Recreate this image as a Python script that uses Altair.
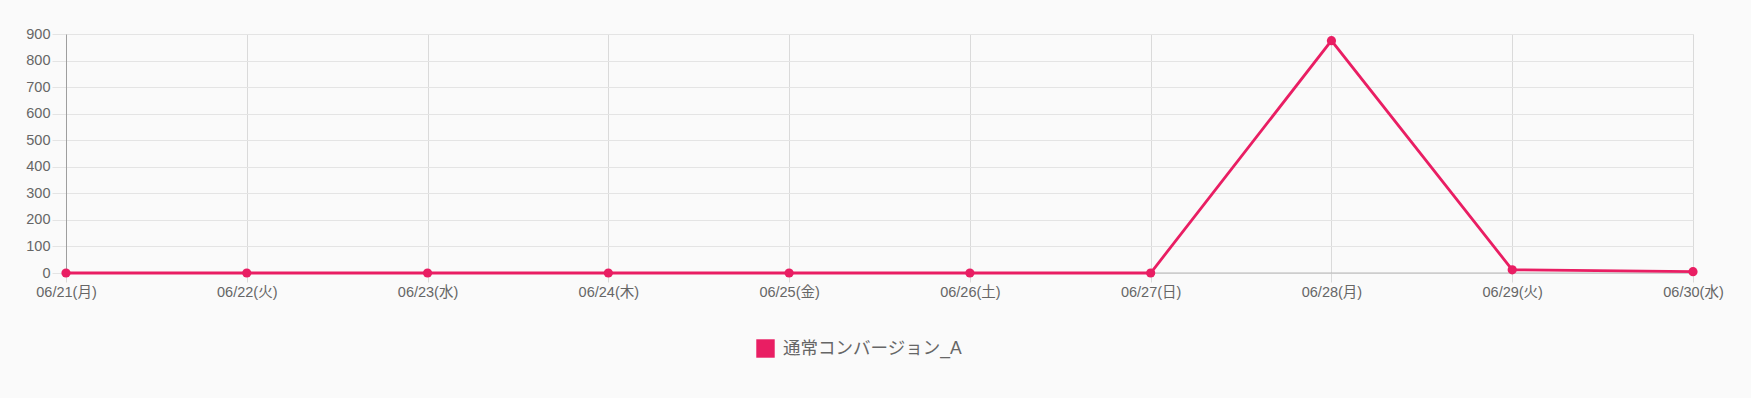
import altair as alt
import pandas as pd

dates = ["06/21(月)", "06/22(火)", "06/23(水)", "06/24(木)", "06/25(金)",
         "06/26(土)", "06/27(日)", "06/28(月)", "06/29(火)", "06/30(水)"]
values = [0, 0, 0, 0, 0, 0, 0, 875, 12, 5]
series = ["通常コンバージョン_A"] * len(dates)
y_ticks = [0, 100, 200, 300, 400, 500, 600, 700, 800, 900]

df = pd.DataFrame({"date": dates, "value": values, "series": series})

FONT = "Liberation Sans, Noto Sans CJK JP"
PINK = "#e91e63"

y_axis = alt.Axis(title=None, values=y_ticks, tickCount=10, grid=True,
                  gridColor="#e4e4e4", domain=True, domainColor="#9e9e9e",
                  tickColor="#e4e4e4", tickSize=14, labelFontSize=14.5,
                  labelColor="#666", labelFont=FONT, labelPadding=2,
                  labelOverlap=False, labelFlush=False, labelBound=False)
y_scale = alt.Scale(domain=[0, 900], nice=False)

base = alt.Chart(df).encode(
    x=alt.X("date:O", sort=dates,
            scale=alt.Scale(type="point", padding=0),
            axis=alt.Axis(title=None, labelAngle=0, grid=True, gridColor="#dadada",
                          domain=False, tickColor="#dadada", tickSize=9,
                          labelFontSize=14.5, labelColor="#666", labelFont=FONT,
                          labelPadding=3, labelFlush=False, labelOverlap=False,
                          labelBound=False)),
    y=alt.Y("value:Q", scale=y_scale, axis=y_axis),
    color=alt.Color("series:N", scale=alt.Scale(range=[PINK]),
                    legend=alt.Legend(title=None, orient="none", legendX=690, legendY=305,
                                      symbolType="square", symbolSize=340,
                                      symbolStrokeWidth=0, symbolOpacity=1,
                                      labelFontSize=17.5, labelColor="#666", labelFont=FONT,
                                      labelOffset=8, labelLimit=0, padding=0)),
)

line = base.mark_line(strokeWidth=2.8)
points = base.mark_circle(size=85, opacity=1)
zero = alt.Chart(pd.DataFrame({"y": [0]})).mark_rule(color="#b5b5b5", strokeWidth=1.2).encode(
    y=alt.Y("y:Q", scale=y_scale, axis=y_axis))

chart = (zero + line + points).properties(
    width=1627, height=239,
    background="#fafafa",
    padding={"left": 66, "top": 34, "right": 58, "bottom": 125},
    autosize=alt.AutoSizeParams(type="none"),
).configure_view(stroke="#e4e4e4")

chart.save("out.html", embed_options={"renderer": "svg", "actions": False})
